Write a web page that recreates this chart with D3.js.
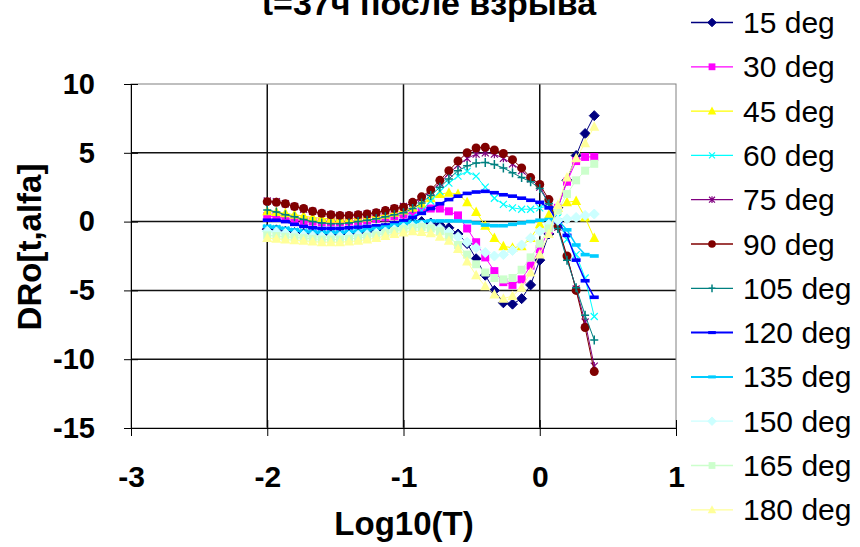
<!DOCTYPE html>
<html><head><meta charset="utf-8">
<script src="https://cdn.jsdelivr.net/npm/d3@7"></script>
<style>body{margin:0;background:#fff}svg{display:block;font-family:"Liberation Sans",Arial,sans-serif}</style>
</head><body><svg id="c" width="860" height="547"></svg>
<script>
const titleText = "t=37ч после взрыва";
const xTitle = "Log10(T)";
const yTitle = "DRo[t,alfa]";
const xTicks = [-3, -2, -1, 0, 1];
const yTicks = [10, 5, 0, -5, -10, -15];
const xValues = [-2.000,-1.933,-1.867,-1.800,-1.733,-1.667,-1.600,-1.533,-1.467,-1.400,-1.333,-1.267,-1.200,-1.133,-1.067,-1.000,-0.933,-0.867,-0.800,-0.733,-0.667,-0.600,-0.533,-0.467,-0.400,-0.333,-0.267,-0.200,-0.133,-0.067,0.000,0.067,0.133,0.200,0.267,0.333,0.400];
const seriesNames = ["15 deg","30 deg","45 deg","60 deg","75 deg","90 deg","105 deg","120 deg","135 deg","150 deg","165 deg","180 deg"];
const s15 = [-0.55,-0.6,-0.7,-0.8,-0.85,-0.9,-0.95,-0.95,-0.95,-0.9,-0.85,-0.75,-0.6,-0.45,-0.3,-0.15,0.0,0.0,-0.1,-0.25,-0.45,-0.9,-1.6,-2.7,-3.9,-5.0,-5.9,-6.0,-5.6,-4.6,-2.8,-0.9,1.0,3.0,4.8,6.4,7.7];
const s30 = [0.4,0.35,0.25,0.15,0.05,0.0,-0.05,-0.05,-0.05,0.0,0.05,0.1,0.2,0.3,0.4,0.5,0.65,0.8,0.95,0.95,0.75,0.45,-0.5,-1.5,-2.6,-3.6,-4.4,-4.6,-4.2,-3.2,-2.0,-0.6,1.0,2.9,4.4,4.7,4.7];
const s45 = [0.75,0.7,0.6,0.5,0.4,0.3,0.25,0.2,0.2,0.2,0.25,0.3,0.4,0.5,0.65,0.8,1.0,1.3,1.7,2.0,2.1,2.0,1.4,0.7,-0.3,-1.2,-1.8,-1.9,-1.8,-1.2,-0.2,0.5,1.0,1.4,1.5,0.3,-1.2];
const s60 = [-0.45,-0.5,-0.6,-0.7,-0.75,-0.8,-0.85,-0.85,-0.85,-0.8,-0.75,-0.65,-0.55,-0.4,-0.25,-0.05,0.3,0.8,1.5,2.2,2.8,3.3,3.65,3.3,2.5,1.7,1.25,1.0,0.9,0.9,1.0,1.15,0.3,-1.3,-2.4,-4.1,-6.9];
const s75 = [1.5,1.45,1.3,1.1,0.9,0.75,0.6,0.5,0.45,0.45,0.5,0.55,0.65,0.8,0.95,1.1,1.35,1.7,2.2,2.8,3.5,4.1,4.6,4.9,5.0,4.9,4.6,4.2,3.7,3.1,2.5,1.4,-0.4,-2.6,-4.9,-7.3,-10.5];
const s90 = [1.45,1.4,1.3,1.1,0.95,0.75,0.6,0.5,0.45,0.45,0.5,0.55,0.65,0.8,0.95,1.05,1.4,1.8,2.3,3.0,3.7,4.4,5.0,5.35,5.4,5.2,4.95,4.5,3.9,3.2,2.7,1.6,-0.3,-2.5,-5.0,-7.7,-10.9];
const s105 = [0.85,0.7,0.5,0.35,0.15,0.0,-0.1,-0.15,-0.15,-0.1,0.0,0.1,0.2,0.35,0.5,0.65,0.95,1.35,1.9,2.5,3.1,3.7,4.05,4.25,4.3,4.15,3.9,3.55,3.2,2.9,2.4,1.3,-0.5,-2.8,-4.8,-6.8,-8.6];
const s120 = [0.1,0.1,0.0,-0.2,-0.35,-0.45,-0.5,-0.5,-0.5,-0.45,-0.4,-0.35,-0.3,-0.25,-0.1,0.05,0.3,0.6,0.95,1.3,1.6,1.85,2.05,2.15,2.2,2.1,1.95,1.85,1.7,1.55,1.4,1.0,0.0,-1.0,-2.8,-4.3,-5.5];
const s135 = [-0.35,-0.4,-0.5,-0.6,-0.7,-0.75,-0.8,-0.8,-0.8,-0.75,-0.7,-0.6,-0.5,-0.4,-0.25,-0.15,-0.05,0.0,0.05,0.05,0.05,0.05,0.0,-0.1,-0.25,-0.3,-0.3,-0.2,-0.1,0.0,0.1,0.15,0.1,-0.6,-1.7,-2.4,-2.5];
const s150 = [-0.7,-0.75,-0.85,-0.95,-1.0,-1.05,-1.1,-1.1,-1.1,-1.05,-1.0,-0.95,-0.85,-0.75,-0.6,-0.45,-0.35,-0.3,-0.35,-0.5,-0.75,-1.1,-1.5,-1.9,-2.25,-2.5,-2.4,-2.1,-1.7,-1.2,-0.7,-0.2,0.1,0.2,0.3,0.45,0.55];
const s165 = [-1.0,-1.05,-1.1,-1.15,-1.2,-1.25,-1.3,-1.3,-1.3,-1.25,-1.2,-1.1,-1.0,-0.85,-0.7,-0.55,-0.45,-0.4,-0.5,-0.7,-1.1,-1.7,-2.4,-3.1,-3.7,-4.1,-4.2,-4.1,-3.5,-2.6,-1.6,-0.5,0.8,2.0,3.0,3.7,4.2];
const s180 = [-1.2,-1.25,-1.3,-1.35,-1.4,-1.45,-1.5,-1.5,-1.5,-1.45,-1.4,-1.3,-1.2,-1.05,-0.9,-0.8,-0.7,-0.75,-0.85,-1.1,-1.4,-2.0,-2.9,-3.9,-4.7,-5.3,-5.6,-5.4,-4.8,-3.7,-2.4,-0.9,1.2,3.2,4.6,5.7,6.9];
const seriesValues = [s15,s30,s45,s60,s75,s90,s105,s120,s135,s150,s165,s180];

// styles
const colors = ["#000080","#FF00FF","#FFFF00","#00FFFF","#800080","#800000","#008080","#0000FF","#00CCFF","#CCFFFF","#CCFFCC","#FFFF99"];
const shapes = ["diamond","square","triangle","x","asterisk","circle","plus","dash","dash","diamond","square","triangle"];

const svg = d3.select("#c");
const x = d3.scaleLinear().domain([-3, 1]).range([131, 676]);
const y = d3.scaleLinear().domain([-15, 10]).range([428, 84]);

function drawMarker(g, shape, color, cx, cy, k) {
  const s = k;
  if (shape === "diamond") {
    g.append("path").attr("d", `M${cx},${cy-s*5}L${cx+s*5},${cy}L${cx},${cy+s*5}L${cx-s*5},${cy}Z`).attr("fill", color).attr("stroke", color);
  } else if (shape === "square") {
    g.append("rect").attr("x", cx-s*4).attr("y", cy-s*4).attr("width", s*8).attr("height", s*8).attr("fill", color).attr("stroke", "none");
  } else if (shape === "triangle") {
    g.append("path").attr("d", `M${cx},${cy-s*5.5}L${cx+s*5},${cy+s*4}L${cx-s*5},${cy+s*4}Z`).attr("fill", color).attr("stroke", "none");
  } else if (shape === "x") {
    g.append("path").attr("d", `M${cx-s*3.5},${cy-s*3.5}L${cx+s*3.5},${cy+s*3.5}M${cx-s*3.5},${cy+s*3.5}L${cx+s*3.5},${cy-s*3.5}`).attr("stroke", color).attr("stroke-width", 1.2).attr("fill", "none");
  } else if (shape === "asterisk") {
    g.append("path").attr("d", `M${cx-s*3.5},${cy-s*3.5}L${cx+s*3.5},${cy+s*3.5}M${cx-s*3.5},${cy+s*3.5}L${cx+s*3.5},${cy-s*3.5}M${cx},${cy-s*4}L${cx},${cy+s*4}`).attr("stroke", color).attr("stroke-width", 1.2).attr("fill", "none");
  } else if (shape === "circle") {
    g.append("circle").attr("cx", cx).attr("cy", cy).attr("r", s*4.5).attr("fill", color).attr("stroke", "none");
  } else if (shape === "plus") {
    g.append("path").attr("d", `M${cx-s*4},${cy}L${cx+s*4},${cy}M${cx},${cy-s*4.5}L${cx},${cy+s*4.5}`).attr("stroke", color).attr("stroke-width", 1.5).attr("fill", "none");
  } else if (shape === "dash") {
    g.append("rect").attr("x", cx-s*4.5).attr("y", cy-s*1.8).attr("width", s*9).attr("height", s*3.6).attr("fill", color).attr("stroke", "none");
  }
}

// gridlines
const gGrid = svg.append("g");
gGrid.selectAll("line.h").data(yTicks.filter(t => t !== -15 && t !== 10)).enter().append("line")
  .attr("x1", x(-3)).attr("x2", x(1)).attr("y1", d => y(d)).attr("y2", d => y(d))
  .attr("stroke", "#111").attr("stroke-width", 1.5);
gGrid.selectAll("line.v").data(xTicks.filter(t => t !== -3 && t !== 1)).enter().append("line")
  .attr("y1", y(10)).attr("y2", y(-15)).attr("x1", d => x(d)).attr("x2", d => x(d))
  .attr("stroke", "#111").attr("stroke-width", 1.5);
// plot border
svg.append("rect").attr("x", x(-3)).attr("y", y(10)).attr("width", x(1)-x(-3)).attr("height", y(-15)-y(10))
  .attr("fill", "none").attr("stroke", "#808080").attr("stroke-width", 1);

// series
const line = d3.line().x((d, i) => x(xValues[i])).y(d => y(d));
seriesValues.forEach((vals, si) => {
  const g = svg.append("g");
  g.append("path").attr("d", line(vals)).attr("fill", "none").attr("stroke", colors[si])
    .attr("stroke-width", (shapes[si] === "dash") ? 1.5 : 1);
  vals.forEach((v, i) => drawMarker(g, shapes[si], colors[si], x(xValues[i]), y(v), 1));
});

// axes
const fmt = d => String(d);
const ax = svg.append("g").attr("transform", `translate(0,${y(-15)})`)
  .call(d3.axisBottom(x).tickValues(xTicks).tickFormat(fmt).tickSizeOuter(0).tickSizeInner(8).tickPadding(30));
ax.selectAll(".tick line").attr("y1", -8).attr("y2", 8).attr("stroke", "#000");
ax.select(".domain").attr("stroke", "#000");
ax.selectAll("text").attr("font-size", 30).attr("font-weight", "bold").attr("fill", "#000")
  .attr("font-family", '"Liberation Sans",Arial,sans-serif');

const ay = svg.append("g").attr("transform", `translate(${x(-3)},0)`)
  .call(d3.axisLeft(y).tickValues(yTicks).tickFormat(fmt).tickSizeOuter(0).tickSizeInner(7).tickPadding(29));
ay.selectAll(".tick line").attr("x1", -7).attr("x2", 7).attr("stroke", "#000");
ay.select(".domain").attr("stroke", "#000");
ay.selectAll("text").attr("font-size", 29).attr("font-weight", "bold").attr("fill", "#000")
  .attr("font-family", '"Liberation Sans",Arial,sans-serif');

// titles
svg.append("text").attr("x", 429).attr("y", 15).attr("text-anchor", "middle")
  .attr("font-size", 34).attr("font-weight", "bold").text(titleText);
svg.append("text").attr("x", 404).attr("y", 535).attr("text-anchor", "middle")
  .attr("font-size", 33).attr("font-weight", "bold").text(xTitle);
svg.append("text").attr("transform", "translate(41,247) rotate(-90)").attr("text-anchor", "middle")
  .attr("font-size", 33).attr("font-weight", "bold").text(yTitle);

// legend
const leg = svg.append("g");
seriesNames.forEach((name, i) => {
  const base = 33 + 44.3 * i;
  const cy = base - 10.5;
  const g = leg.append("g");
  g.append("line").attr("x1", 691).attr("x2", 733).attr("y1", cy).attr("y2", cy)
    .attr("stroke", colors[i]).attr("stroke-width", (shapes[i] === "dash") ? 2 : 1.3);
  drawMarker(g, shapes[i], colors[i], 712, cy, 0.85);
  g.append("text").attr("x", 743).attr("y", base).attr("font-size", 30).attr("fill", "#000").text(name);
});
</script></body></html>
